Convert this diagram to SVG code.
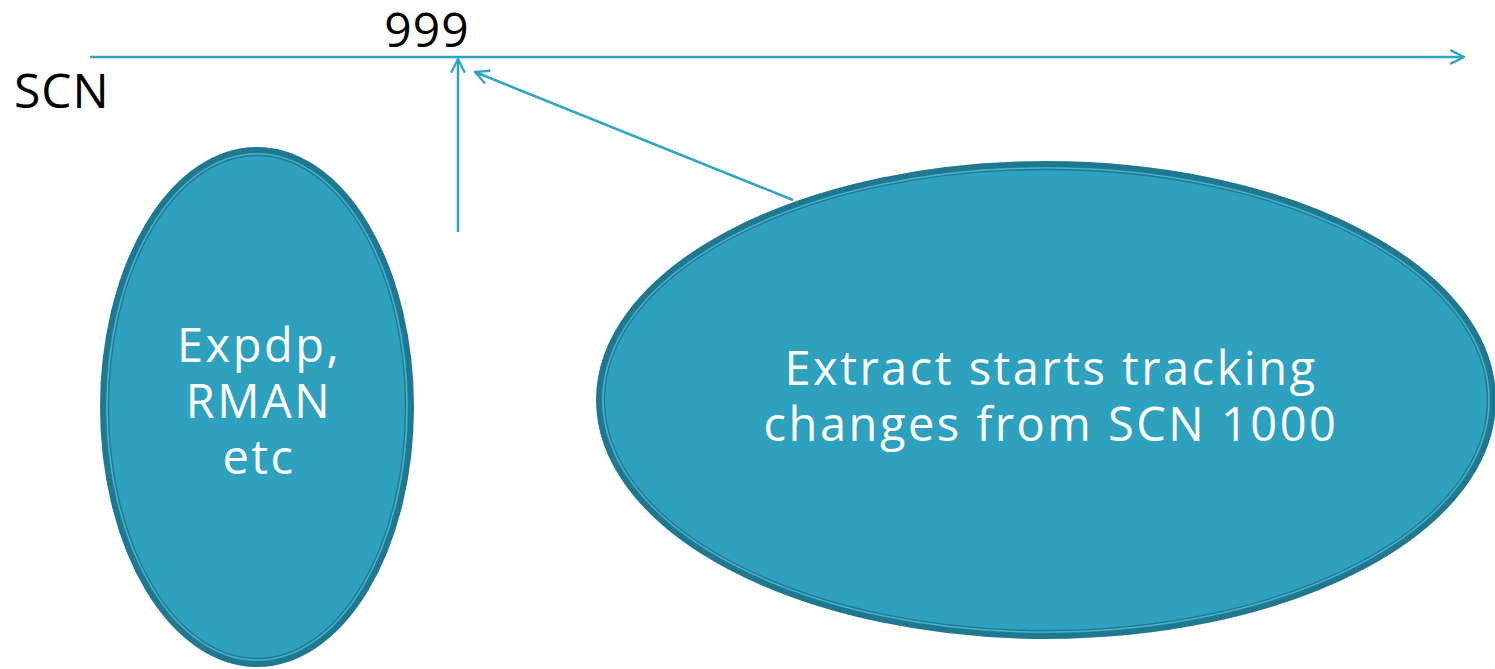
<svg xmlns="http://www.w3.org/2000/svg" width="1495" height="669" viewBox="0 0 1495 669">
  <style>
    .conn { stroke: #2ea5c2; stroke-width: 2.5; fill: none; }
    .lbl { font-family: "Open Sans", "DejaVu Sans", sans-serif; fill: #000; font-size: 48px; letter-spacing: 1px; }
    .ntxt { font-family: "Open Sans", "DejaVu Sans", sans-serif; fill: #ffffff; font-size: 47px; letter-spacing: 2.5px; text-anchor: middle; }
    .outer { fill: #2da1be; stroke: #1f7890; stroke-width: 6; }
    .inner { fill: none; stroke: #1f7890; stroke-width: 1.3; }
    .gap { fill: none; stroke: #4fb3cc; stroke-width: 1.2; }
  </style>
  <defs>
    <marker id="open2" viewBox="0 0 14 14" refX="13" refY="7" markerWidth="16" markerHeight="16" markerUnits="userSpaceOnUse" orient="auto">
      <path d="M1,1 L13,7 L1,13" fill="none" stroke="#2ea5c2" stroke-width="2"/>
    </marker>
  </defs>

  <g id="labels">
    <text class="lbl" x="427" y="47" text-anchor="middle">999</text>
    <text class="lbl" x="14" y="108">SCN</text>
  </g>

  <g id="connectors">
    <line class="conn" x1="90" y1="57" x2="1464" y2="57" marker-end="url(#open2)"/>
    <line class="conn" x1="458" y1="232" x2="458" y2="59" marker-end="url(#open2)"/>
    <line class="conn" x1="793" y1="200" x2="475" y2="72" marker-end="url(#open2)"/>
  </g>

  <g id="node-expdp">
    <ellipse class="outer" cx="257" cy="407" rx="154" ry="257"/>
    <ellipse class="gap" cx="257" cy="407" rx="150" ry="253"/>
    <ellipse class="inner" cx="257" cy="407" rx="148.5" ry="251.5"/>
    <text class="ntxt" x="259" y="362">Expdp,</text>
    <text class="ntxt" x="259" y="418">RMAN</text>
    <text class="ntxt" x="259" y="474">etc</text>
  </g>

  <g id="node-extract">
    <ellipse class="outer" cx="1046" cy="400" rx="447" ry="236"/>
    <ellipse class="gap" cx="1046" cy="400" rx="443" ry="232"/>
    <ellipse class="inner" cx="1046" cy="400" rx="441.5" ry="230.5"/>
    <text class="ntxt" x="1051" y="385">Extract starts tracking</text>
    <text class="ntxt" x="1051" y="441">changes from SCN 1000</text>
  </g>
</svg>
